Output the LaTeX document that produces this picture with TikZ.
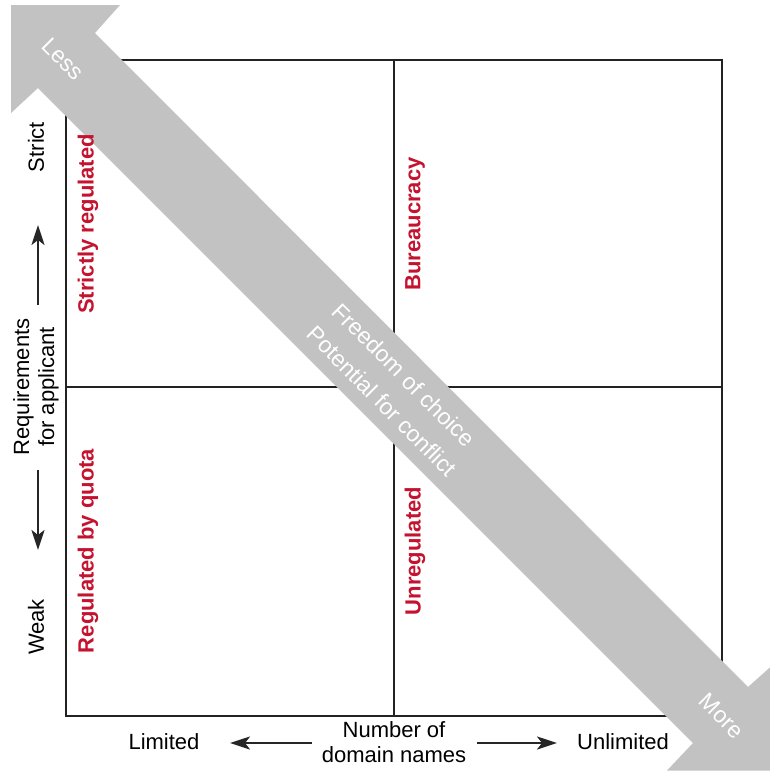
\documentclass[tikz,border=0pt]{standalone}
\usepackage{fontspec}
\setmainfont{Liberation Sans}
\usetikzlibrary{arrows.meta}
\definecolor{arrowgray}{HTML}{C2C2C2}
\definecolor{labelred}{HTML}{C4122F}
\definecolor{linegray}{HTML}{222222}
\begin{document}
\begin{tikzpicture}[x=0.5pt,y=-0.5pt,
  quadline/.style={draw=linegray,line width=1pt},
  redlabel/.style={text=labelred,font=\fontsize{11}{13}\selectfont\bfseries,rotate=90,inner sep=0pt},
  axislabel/.style={text=black,font=\fontsize{11}{12.5}\selectfont,inner sep=0pt},
  onarrow/.style={text=white,font=\fontsize{11.5}{13}\selectfont,rotate=-45,inner sep=0pt},
  axisarrow/.style={draw=black!85,line width=1.2pt,-{Stealth[length=10pt,width=6.5pt,inset=2.5pt]}}
]
\useasboundingbox (0,0) rectangle (770,771);
\clip (0,0) rectangle (770,771);
% quadrants
\draw[quadline] (66,60) rectangle (722,716);
\draw[quadline] (394,60) -- (394,716);
\draw[quadline] (66,387) -- (722,387);
% big gray double arrow
\fill[arrowgray] (11,5) -- (120,5) -- (95,33) -- (748,687) -- (776,662) -- (776,770.5)
  -- (667,770.5) -- (693,743) -- (38,88) -- (11,113) -- cycle;
\node[onarrow] (less) at (63,59) {Less};
\node[onarrow] (more) at (722,716) {More};
\node[onarrow] (free) at (404,375) {Freedom of choice};
\node[onarrow] (conf) at (382,401) {Potential for conflict};
% quadrant labels
\node[redlabel] (strict) at (88,224) {Strictly regulated};
\node[redlabel] (bur) at (415,224) {Bureaucracy};
\node[redlabel] (quota) at (88,551) {Regulated by quota};
\node[redlabel] (unreg) at (415,551) {Unregulated};
% vertical axis
\node[axislabel,rotate=90] (strictl) at (36,147) {Strict};
\node[axislabel,rotate=90] (weak) at (36,627) {Weak};
\node[axislabel,rotate=90,align=center] (req) at (36,387) {Requirements\\for applicant};
\coordinate (ua0) at (38,305);
\coordinate (ua1) at (38,225);
\coordinate (da0) at (38,470);
\coordinate (da1) at (38,550);
\draw[axisarrow] (ua0) -- (ua1);
\draw[axisarrow] (da0) -- (da1);
% horizontal axis
\node[axislabel] (lim) at (164,742) {Limited};
\node[axislabel] (unlim) at (623,742) {Unlimited};
\node[axislabel,align=center] (num) at (394,742) {Number of\\domain names};
\coordinate (la0) at (312,743);
\coordinate (la1) at (230,743);
\coordinate (ra0) at (477,743);
\coordinate (ra1) at (557,743);
\draw[axisarrow] (la0) -- (la1);
\draw[axisarrow] (ra0) -- (ra1);
\end{tikzpicture}
\end{document}
